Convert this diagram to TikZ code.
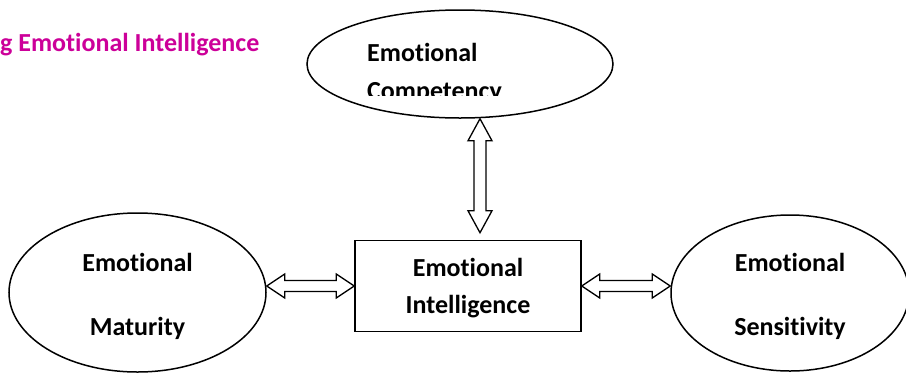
\documentclass[tikz,border=0pt]{standalone}
\usepackage{fontspec}
\setmainfont{Carlito}[Ligatures={NoCommon}]
\usepackage{tikz}
\usetikzlibrary{shapes,calc,positioning}
\definecolor{titlepink}{RGB}{204,0,153}
\tikzset{
  twoway/.style={draw=black,line width=1.3pt,fill=white,line join=miter}
}

\begin{document}
\begin{tikzpicture}[x=1pt,y=-1pt,
        oval/.style={ellipse,draw=black,line width=1.5pt,inner sep=0pt},
        block/.style={rectangle,draw=black,line width=1.5pt,align=center,font=\fontsize{26}{37}\selectfont\bfseries},
        words/.style={align=center,font=\fontsize{26}{64}\selectfont\bfseries}]
        \clip (0,0) rectangle (906,373);
        \node (T0) at (0,51) [anchor=base west,inner sep=0pt,text=titlepink,font=\fontsize{26}{30}\selectfont\bfseries] {g Emotional Intelligence};

        \node (EC) at (460,64) [oval,minimum width=306pt,minimum height=108pt] {};
        \node (EC1) at (367,61) [anchor=base west,inner sep=0pt,font=\fontsize{26}{30}\selectfont\bfseries] {Emotional};
        \begin{scope}
            \clip (300,0) rectangle (620,95);
            \node (EC2) at (367,99) [anchor=base west,inner sep=0pt,font=\fontsize{26}{30}\selectfont\bfseries] {Competency};
        \end{scope}

        \node (EM) at (137.5,292.5) [oval,words,minimum width=257pt,minimum height=159pt] {\rule{0pt}{26pt}Emotional\\Maturity};
        \node (EI) at (468,286) [block,minimum width=226pt,minimum height=91pt] {\rule{0pt}{22pt}Emotional\\Intelligence};
        \node (ES) at (790,293) [oval,words,minimum width=238pt,minimum height=156pt] {\rule{0pt}{26pt}Emotional\\Sensitivity};

        \coordinate (C1) at ($(EC.south)+(20,0)$);
        \coordinate (C2) at ($(EI.north)+(12,-7)$);
        \coordinate (C3) at (EM.east |- EI.west);
        \coordinate (C4) at (ES.west |- EI.west);

        \draw[twoway] (C1) -- ++(12,22) -- ++(-6,0) -- ($(C2)+(6,-22)$) -- ++(6,0) -- (C2) -- ++(-12,-22) -- ++(6,0) -- ($(C1)+(-6,22)$) -- ++(-6,0) -- cycle;
        \draw[twoway] (C3) -- ++(18,-12) -- ++(0,6.5) -- ($(EI.west)+(-18,-5.5)$) -- ++(0,-6.5) -- (EI.west) -- ++(-18,12) -- ++(0,-6.5) -- ($(C3)+(18,5.5)$) -- ++(0,6.5) -- cycle;
        \draw[twoway] (EI.east) -- ++(18,-12) -- ++(0,6.5) -- ($(C4)+(-18,-5.5)$) -- ++(0,-6.5) -- (C4) -- ++(-18,12) -- ++(0,-6.5) -- ($(EI.east)+(18,5.5)$) -- ++(0,6.5) -- cycle;
\end{tikzpicture}
\end{document}
